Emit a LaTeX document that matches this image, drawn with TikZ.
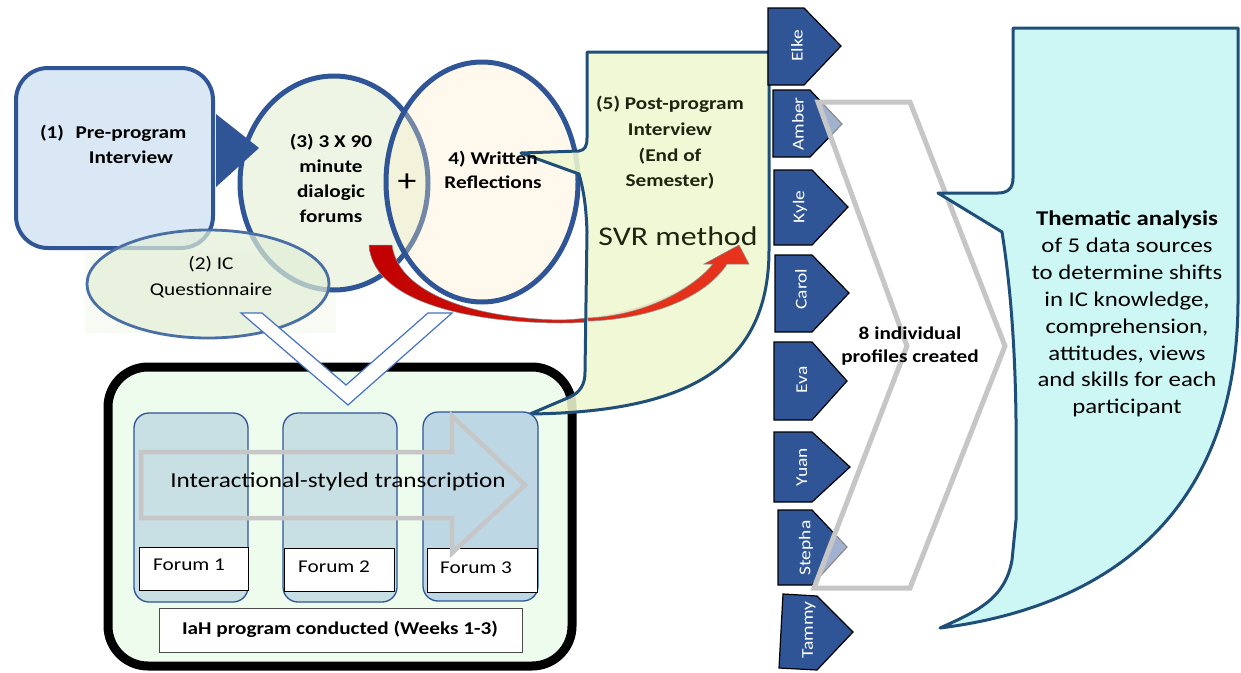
\documentclass[tikz,border=0pt]{standalone}
\usepackage{fontspec}
\setmainfont{Carlito}[FakeStretch=1.18]
\usetikzlibrary{shapes.geometric}
\definecolor{dblue}{HTML}{2F5597}
\definecolor{preblue}{HTML}{DAE8F5}
\definecolor{cthree}{HTML}{EEF5E4}
\definecolor{cfour}{HTML}{FFEDC8}
\definecolor{qfill}{HTML}{E2EFD6}
\definecolor{qborder}{HTML}{4A6FA5}
\definecolor{cfivefill}{HTML}{EFF7D0}
\definecolor{cfiveborder}{HTML}{1F4E79}
\definecolor{boxgreen}{HTML}{EEFCEE}
\definecolor{colblue}{HTML}{C8DFE4}
\definecolor{colbluetwo}{HTML}{BED7E4}
\definecolor{arrowgray}{HTML}{C6C6C6}
\definecolor{thfill}{HTML}{CCF7F4}
\definecolor{chevblue}{HTML}{4472C4}
\definecolor{olive}{HTML}{1E2410}
\definecolor{redA}{HTML}{C00000}
\definecolor{redB}{HTML}{E8341C}
\definecolor{faint}{HTML}{F7FBF3}
\begin{document}
\begin{tikzpicture}[x=1pt,y=-1pt,
  bl/.style={inner sep=0pt, align=center, font=\fontsize{18}{25}\selectfont\bfseries},
  rg/.style={inner sep=0pt, align=center, font=\fontsize{18}{26}\selectfont},
  tagbox/.style={fill=dblue, draw=black, line width=1.2},
  tagtext/.style={inner sep=0pt, rotate=90, text=white, font=\fontsize{16.5}{17}\selectfont},
  forumcol/.style={draw=dblue, line width=1.3, rounded corners=15},
  forumlab/.style={fill=white, draw=black, line width=1},
  ftext/.style={inner sep=0pt, anchor=west, font=\fontsize{18}{20}\selectfont},
]
\useasboundingbox (0,0) rectangle (1241,672);

% bottom program box
\draw[line width=9, fill=boxgreen, rounded corners=40] (108,367) rectangle (572,666);

% (1) pre-program box
\draw[line width=4, draw=dblue, fill=preblue, rounded corners=32] (16,68) rectangle (213,248);

% faint text area behind (2)
\fill[faint] (85,252) rectangle (336,333);

% (3) forums circle
\draw[line width=5, draw=dblue, fill=cthree] (334,183) ellipse [x radius=94, y radius=107];

% red curved arrow
\shade[left color=redA, right color=redB, draw=black!45, line width=0.5]
  (369,245) .. controls (372,295) and (450,322) .. (560,323)
  .. controls (640,323) and (700,300) .. (727,264)
  -- (749,264) -- (739,245) -- (704,264) -- (713,264)
  .. controls (690,292) and (630,318) .. (560,320)
  .. controls (470,318) and (398,292) .. (392,245) -- cycle;

% (4) written reflections circle
\draw[line width=5, draw=dblue, fill=cfour, fill opacity=0.33] (482,182) ellipse [x radius=96, y radius=120];

% triangle from (1) to (3)
\fill[dblue] (216,114) -- (259,148) -- (216,187) -- cycle;

% (2) IC questionnaire
\draw[line width=2.8, draw=qborder, fill=qfill, fill opacity=0.7] (208,284) ellipse [x radius=121, y radius=54];

% (5) post-program callout
\draw[line width=3, draw=cfiveborder, fill=cfivefill, fill opacity=0.88, line join=round]
  (587,52) -- (769,52) -- (769,250)
  .. controls (769,372) and (680,412) .. (530,414)
  -- (570,397) .. controls (580,392) and (585,385) .. (585,372)
  -- (587,232) .. controls (586,200) and (582,185) .. (579,174)
  -- (521,153) -- (579,151) .. controls (585,150) and (587,146) .. (587,138)
  -- cycle;

% red arrow head part over the callout
\shade[left color=redB!85!redA, right color=redB, draw=black!45, line width=0.5]
  (588,321) .. controls (650,319) and (705,298) .. (727,264)
  -- (749,264) -- (739,245) -- (704,264) -- (713,264)
  .. controls (690,292) and (640,316) .. (588,318) -- cycle;

% forum columns
\draw[forumcol, fill=colblue] (134,413) rectangle (248,602);
\draw[forumcol, fill=colblue] (283,413) rectangle (397,602);
\draw[forumcol, fill=colbluetwo] (423,412) rectangle (538,601);
\draw[forumlab] (139,547) rectangle (248,590);
\draw[forumlab] (284,548) rectangle (394,591);
\draw[forumlab] (427,548) rectangle (537,592);

% transcription arrow
\draw[arrowgray, line width=4.5, line join=miter]
  (141,452) -- (452,452) -- (452,416) -- (525,485) -- (452,553) -- (452,518) -- (141,518) -- cycle;

% IaH box
\draw[fill=white, draw=black!70, line width=1] (159,608) rectangle (522,652);

% chevron down
\draw[fill=white, draw=chevblue, line width=1.2, line join=miter]
  (241,313) -- (262,313) -- (346,385) -- (428,313) -- (452,313) -- (348,405) -- cycle;

% participant tags
\draw[tagbox] (768,8) -- (804,8) -- (841,46) -- (804,85) -- (768,85) -- cycle;
\draw[tagbox] (773,90) -- (810,90) -- (842,124) -- (810,157) -- (773,157) -- cycle;
\draw[tagbox] (774,170) -- (812,170) -- (848,207) -- (812,245) -- (774,245) -- cycle;
\draw[tagbox] (775,255) -- (812,255) -- (849,293) -- (812,332) -- (775,332) -- cycle;
\draw[tagbox] (774,342) -- (812,342) -- (847,381) -- (812,420) -- (774,420) -- cycle;
\draw[tagbox] (774,432) -- (812,432) -- (850,467) -- (812,502) -- (774,502) -- cycle;
\draw[tagbox] (778,510) -- (812,510) -- (847,547) -- (812,585) -- (778,585) -- cycle;
\draw[tagbox] (783,594) -- (817,596) -- (853,632) -- (817,670) -- (779,668) -- cycle;

% gray chevron
\draw[arrowgray, line width=5, fill=white, fill opacity=0.55, line join=miter]
  (818,102) -- (910,102) -- (1005,346) -- (910,588) -- (814,588) -- (907,346) -- cycle;

% thematic analysis callout
\draw[line width=3, draw=cfiveborder, fill=thfill, line join=round]
  (1013,28) -- (1238,28) -- (1238,300)
  .. controls (1238,520) and (1100,608) .. (940,628)
  .. controls (975,612) and (1005,600) .. (1012,560)
  -- (1016,520) -- (1016,420)
  .. controls (1015,330) and (1008,270) .. (1002,232)
  -- (938,193) -- (998,193) .. controls (1008,193) and (1013,188) .. (1013,178)
  -- cycle;

% ---- texts ----
\node[bl] (n1) at (52,133) {(1)};
\node[bl] (pre) at (131,145) {Pre-program\\Interview};
\node[bl] (forums) at (331,178) {(3) 3 X 90\\minute\\dialogic\\forums};
\node[inner sep=0pt, font=\fontsize{32}{32}\selectfont] (plus) at (407,183) {+};
\node[bl, font=\fontsize{18}{24}\selectfont\bfseries] (writ) at (493,170) {4) Written\\Reflections};
\node[rg] (ic) at (211,277) {(2) IC\\Questionnaire};
\node[bl, text=olive, font=\fontsize{18}{25.7}\selectfont\bfseries] (post) at (670,143) {(5) Post-program\\Interview\\(End of\\Semester)};
\node[inner sep=0pt, text=olive, font=\fontsize{27}{30}\selectfont] (svr) at (678,236) {SVR method};
\node[inner sep=0pt, font=\fontsize{21.4}{24}\selectfont] (trans) at (338,482) {Interactional-styled transcription};
\node[ftext] (f1) at (153,565) {Forum 1};
\node[ftext] (f2) at (298,567) {Forum 2};
\node[ftext] (f3) at (440,568) {Forum 3};
\node[bl] (iah) at (340,629) {IaH program conducted (Weeks 1-3)};

\node[tagtext] (elke) at (797,46) {Elke};
\node[tagtext] (amber) at (798,124) {Amber};
\node[tagtext] (kyle) at (800,207) {Kyle};
\node[tagtext] (carol) at (801,289) {Carol};
\node[tagtext] (eva) at (802,380) {Eva};
\node[tagtext] (yuan) at (802,467) {Yuan};
\node[tagtext] (stepha) at (806,548) {Stepha};
\node[tagtext] (tammy) at (809,630) {Tammy};

\node[bl, font=\fontsize{18}{23}\selectfont\bfseries] (prof) at (910,346) {8 individual\\profiles created};

\node[inner sep=0pt, align=center, font=\fontsize{21}{26.9}\selectfont] (them) at (1127,314)
  {\textbf{Thematic analysis}\\of 5 data sources\\to determine shifts\\in IC knowledge,\\comprehension,\\attitudes, views\\and skills for each\\participant};
\end{tikzpicture}
\end{document}
